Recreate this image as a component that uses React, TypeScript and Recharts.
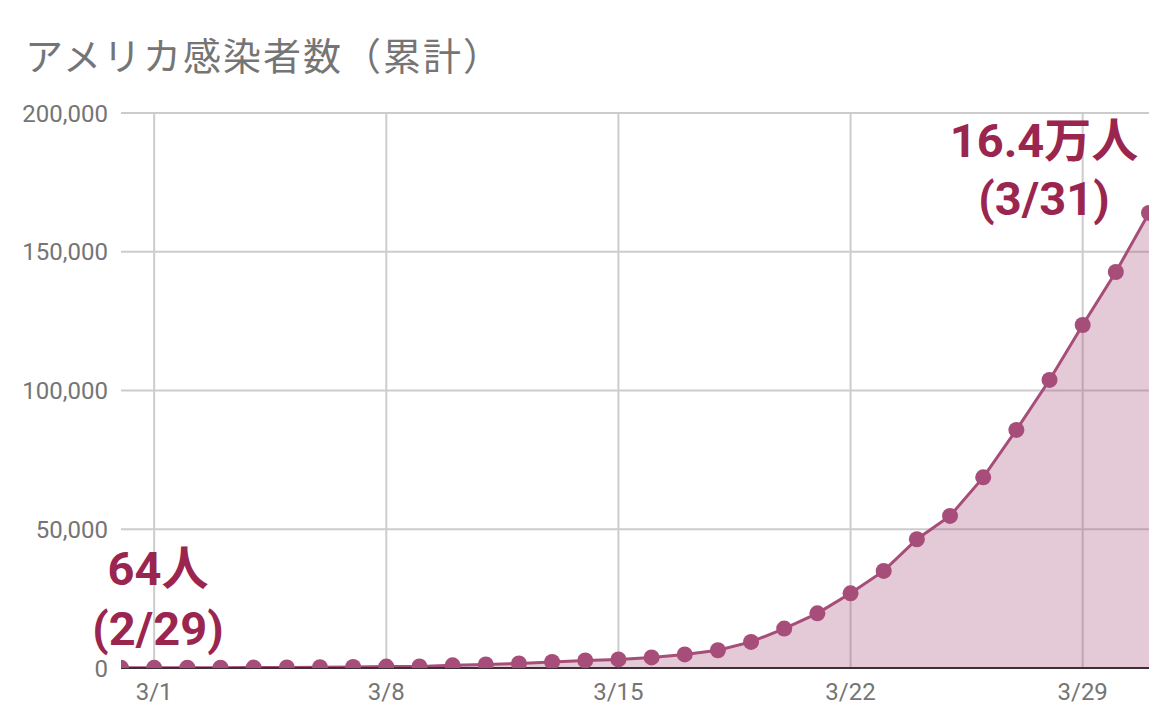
import React from "react";
import { AreaChart, Area, XAxis, YAxis, CartesianGrid, ReferenceDot } from "recharts";

const title = "アメリカ感染者数（累計）";

const dates = [
  "2/29", "3/1", "3/2", "3/3", "3/4", "3/5", "3/6", "3/7", "3/8", "3/9", "3/10",
  "3/11", "3/12", "3/13", "3/14", "3/15", "3/16", "3/17", "3/18", "3/19", "3/20",
  "3/21", "3/22", "3/23", "3/24", "3/25", "3/26", "3/27", "3/28", "3/29", "3/30", "3/31",
];

const cases = [
  64, 74, 98, 118, 149, 217, 262, 402, 518, 583, 959,
  1281, 1663, 2179, 2726, 3100, 3800, 4900, 6400, 9400, 14200,
  19700, 26900, 35000, 46400, 54800, 68700, 85800, 103800, 123600, 142700, 164000,
];

const xTicks = [1, 8, 15, 22, 29];
const yTicks = [0, 50000, 100000, 150000, 200000];

const data = dates.map((d, i) => ({ i, date: d, cases: cases[i] }));

const LINE = "#a64d79";
const ANNOT = "#9a2650";
const GRAY = "#757575";
const AXIS_FONT = "Roboto, 'Noto Sans CJK JP', sans-serif";
const ANNOT_FONT = "Roboto, 'Noto Sans CJK JP', sans-serif";

const firstIdx = 0;
const lastIdx = cases.length - 1;
const firstText = [`${cases[firstIdx]}人`, `(${dates[firstIdx]})`];
const lastText = [`${(cases[lastIdx] / 10000).toFixed(1)}万人`, `(${dates[lastIdx]})`];

function makeLabel(lines: string[], dx: number, dy1: number, dy2: number) {
  return (props: any) => {
    const vb = props.viewBox || {};
    const cx = (vb.x ?? 0) + (vb.width ?? 0) / 2;
    const cy = (vb.y ?? 0) + (vb.height ?? 0) / 2;
    return (
      <g>
        <text x={cx + dx} y={cy + dy1} textAnchor="middle" fill={ANNOT} fontSize={47} fontWeight={700} fontFamily={ANNOT_FONT}>
          {lines[0]}
        </text>
        <text x={cx + dx} y={cy + dy2} textAnchor="middle" fill={ANNOT} fontSize={47} fontWeight={700} fontFamily={ANNOT_FONT}>
          {lines[1]}
        </text>
      </g>
    );
  };
}

export default function App() {
  return (
    <div style={{ position: "absolute", left: 0, top: 0, width: 1166, height: 710, background: "#fff" }}>
      <div
        style={{
          position: "absolute",
          left: 25,
          top: 35,
          fontSize: 38,
          lineHeight: "38px",
          letterSpacing: 2,
          color: GRAY,
          fontFamily: "'Noto Sans CJK JP', sans-serif",
          whiteSpace: "nowrap",
        }}
      >
        {title}
      </div>
      <AreaChart width={1166} height={710} data={data} margin={{ top: 113, right: 17, bottom: 0, left: 0 }}>
        <CartesianGrid stroke="#cccccc" strokeWidth={2} syncWithTicks />
        <XAxis
          dataKey="i"
          type="number"
          domain={[0, 31]}
          ticks={xTicks}
          allowDataOverflow
          height={42}
          tickFormatter={(v: number) => dates[v]}
          axisLine={{ stroke: "#3a3035", strokeWidth: 2 }}
          tickLine={false}
          tickSize={6}
          tickMargin={9}
          tick={{ fill: GRAY, fontSize: 24, fontFamily: AXIS_FONT }}
        />
        <YAxis
          type="number"
          domain={[0, 200000]}
          ticks={yTicks}
          allowDataOverflow
          width={121}
          tickFormatter={(v: number) => v.toLocaleString("en-US")}
          axisLine={false}
          tickLine={false}
          tickSize={6}
          tickMargin={7}
          tick={{ fill: GRAY, fontSize: 24, fontFamily: AXIS_FONT }}
        />
        <Area
          type="linear"
          dataKey="cases"
          stroke={LINE}
          strokeWidth={3}
          fill={LINE}
          fillOpacity={0.3}
          dot={{ r: 8, fill: LINE, fillOpacity: 1, stroke: "none", strokeWidth: 0 }}
          activeDot={false}
          isAnimationActive={false}
        />
        <ReferenceDot
          x={firstIdx}
          y={cases[firstIdx]}
          r={0}
          ifOverflow="visible"
          fill="none"
          stroke="none"
          label={makeLabel(firstText, 37, -83, -23)}
        />
        <ReferenceDot
          x={lastIdx}
          y={cases[lastIdx]}
          r={0}
          ifOverflow="visible"
          fill="none"
          stroke="none"
          label={makeLabel(lastText, -105, -56, 2)}
        />
      </AreaChart>
    </div>
  );
}
